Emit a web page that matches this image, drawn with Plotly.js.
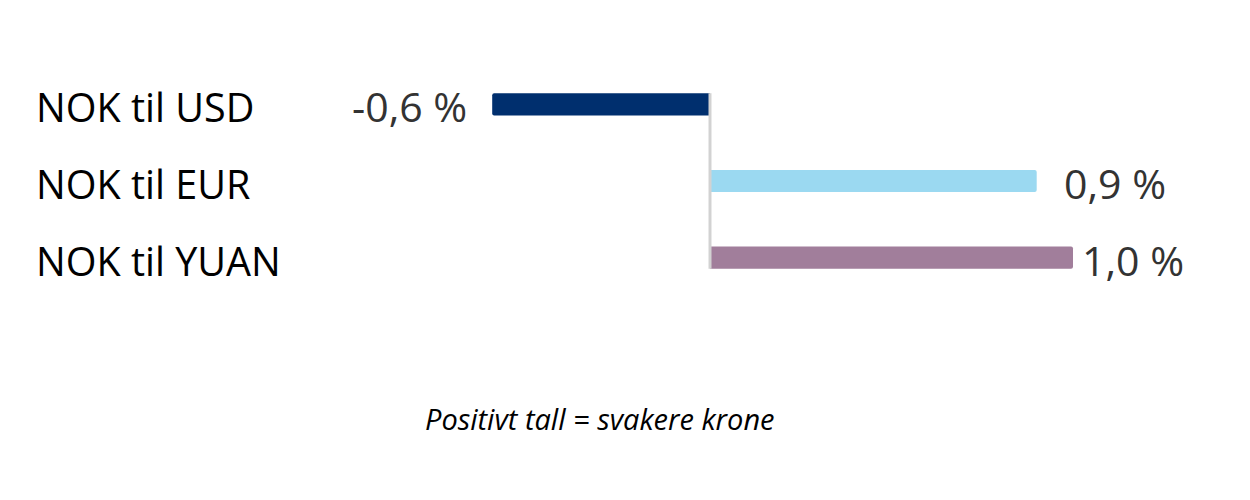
<!DOCTYPE html>
<html>
<head>
<meta charset="utf-8">
<script src="https://cdn.plot.ly/plotly-3.0.1.min.js"></script>
<style>html,body{margin:0;padding:0;background:#fff;}#chart{width:1250px;height:500px;}</style>
</head>
<body>
<div id="chart"></div>
<script>
const categories = ["NOK til USD", "NOK til EUR", "NOK til YUAN"];
const values = [-0.6, 0.9, 1.0];
const barColors = ["#002f6e", "#9bd9f1", "#a17e9b"];
const note = "Positivt tall = svakere krone";

const labelGap = [23, 25, 7];
const fmt = v => v.toFixed(1).replace('.', ',') + ' %';

const trace = {
  type: 'bar',
  orientation: 'h',
  y: categories,
  x: values,
  marker: {color: barColors, cornerradius: 2, line: {width: 0}},
  width: 0.29,
  hoverinfo: 'none'
};

const annotations = [];
categories.forEach((c, i) => {
  annotations.push({
    xref: 'paper', x: 34/1250, xanchor: 'left',
    yref: 'y', y: c, yanchor: 'middle', yshift: -3,
    text: c, showarrow: false,
    font: {family: 'Open Sans', size: 39.5, color: '#000'}
  });
  const v = values[i];
  annotations.push({
    xref: 'x', x: v, xanchor: v < 0 ? 'right' : 'left',
    xshift: v < 0 ? -labelGap[i] : labelGap[i],
    yref: 'y', y: c, yanchor: 'middle', yshift: -2,
    text: fmt(v), showarrow: false,
    font: {family: 'Open Sans', size: 41, color: '#333333'}
  });
});
annotations.push({
  xref: 'paper', x: 600/1250, xanchor: 'center',
  yref: 'paper', y: (296 - 418) / 230, yanchor: 'middle',
  text: '<i>' + note + '</i>', showarrow: false,
  font: {family: 'Open Sans', size: 29, color: '#000'}
});

const layout = {
  width: 1250, height: 500,
  margin: {l: 0, r: 0, t: 66, b: 204, pad: 0},
  paper_bgcolor: '#fff', plot_bgcolor: '#fff',
  showlegend: false,
  xaxis: {range: [-710/363, 540/363], showgrid: false, zeroline: false, showticklabels: false, showline: false, ticks: ''},
  yaxis: {type: 'category', autorange: 'reversed', showgrid: false, zeroline: false, showticklabels: false, showline: false, ticks: ''},
  shapes: [{
    type: 'line', xref: 'x', yref: 'y', layer: 'above',
    x0: 0, x1: 0, y0: -0.145, y1: 2.145,
    line: {color: '#d2d2d2', width: 3}
  }],
  annotations: annotations
};

Plotly.newPlot('chart', [trace], layout, {staticPlot: true, displayModeBar: false});
</script>
</body>
</html>
